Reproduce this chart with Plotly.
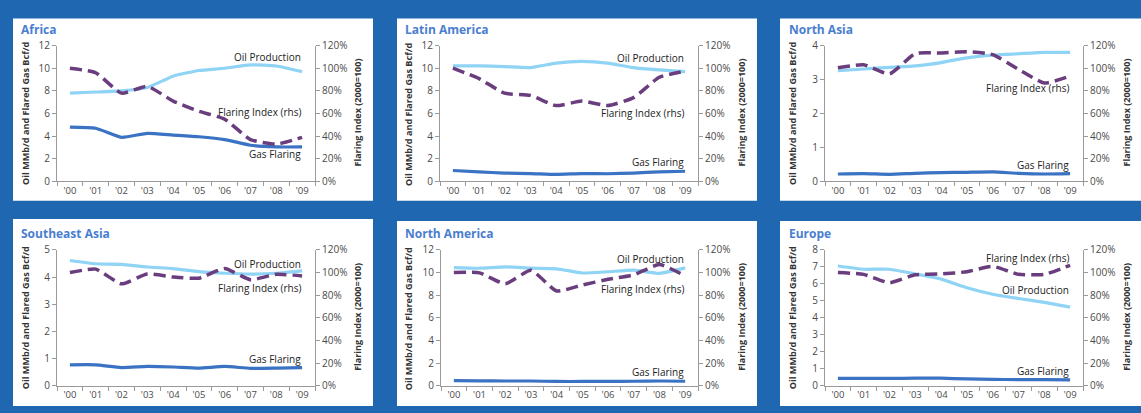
import plotly.graph_objects as go

years = ["'00", "'01", "'02", "'03", "'04", "'05", "'06", "'07", "'08", "'09"]

regions = ["Africa", "Latin America", "North Asia", "Southeast Asia", "North America", "Europe"]

oil_africa = [7.8, 7.9, 8.0, 8.3, 9.3, 9.8, 10.0, 10.3, 10.2, 9.7]
gas_africa = [4.8, 4.7, 3.9, 4.25, 4.1, 3.95, 3.7, 3.2, 3.05, 3.05]
idx_africa = [100, 96, 78, 84, 71, 62, 55, 37, 33, 39]

oil_latam = [10.2, 10.2, 10.15, 10.05, 10.45, 10.6, 10.45, 10.05, 9.85, 9.7]
gas_latam = [0.97, 0.85, 0.74, 0.7, 0.63, 0.7, 0.68, 0.74, 0.85, 0.9]
idx_latam = [100, 91, 78, 76, 67, 71, 67, 74, 92, 97.5]

oil_nasia = [3.26, 3.31, 3.36, 3.40, 3.50, 3.64, 3.72, 3.76, 3.80, 3.80]
gas_nasia = [0.22, 0.23, 0.21, 0.24, 0.26, 0.27, 0.28, 0.24, 0.22, 0.23]
idx_nasia = [100.4, 103, 95, 113, 113.5, 114.6, 112, 99, 87, 93]

oil_seasia = [4.61, 4.49, 4.47, 4.37, 4.31, 4.2, 4.14, 4.11, 4.14, 4.23]
gas_seasia = [0.77, 0.77, 0.67, 0.71, 0.69, 0.65, 0.71, 0.64, 0.65, 0.67]
idx_seasia = [100, 103, 90, 98.7, 96, 95, 103.5, 93.6, 98.4, 97]

oil_namer = [10.44, 10.38, 10.5, 10.38, 10.33, 9.96, 10.07, 10.21, 9.93, 10.41]
gas_namer = [0.45, 0.43, 0.42, 0.42, 0.38, 0.38, 0.38, 0.4, 0.42, 0.4]
idx_namer = [100, 99.7, 90, 102, 83.7, 89, 94, 98, 107, 97]

oil_europe = [7.05, 6.86, 6.86, 6.58, 6.28, 5.77, 5.39, 5.14, 4.91, 4.63]
gas_europe = [0.43, 0.44, 0.43, 0.45, 0.45, 0.40, 0.38, 0.36, 0.36, 0.35]
idx_europe = [100, 98.4, 91, 98, 98.7, 100.7, 105.5, 98.4, 98.4, 106.4]

oil_all = [oil_africa, oil_latam, oil_nasia, oil_seasia, oil_namer, oil_europe]
gas_all = [gas_africa, gas_latam, gas_nasia, gas_seasia, gas_namer, gas_europe]
idx_all = [idx_africa, idx_latam, idx_nasia, idx_seasia, idx_namer, idx_europe]

left_max = [12, 12, 4, 5, 12, 8]
left_dtick = [2, 2, 1, 1, 2, 1]

# label y positions (left-axis units) for: Oil Production, Flaring Index, Gas Flaring
label_y = [
    (10.98, 6.17, 2.4),
    (10.9, 6.03, 1.76),
    (4.04, 2.74, 0.47),
    (4.47, 3.59, 0.98),
    (11.2, 8.51, 1.22),
    (5.63, 7.5, 0.87),
]

W, H = 1141, 413
BLUE_BG = "#1f67b0"
TITLE_C = "#4a7ed0"
OIL_C = "#8fd3f5"
GAS_C = "#3a72c4"
IDX_C = "#6a3d7e"
AXIS_C = "#9a9a9a"
TXT_C = "#4a4a4a"
FONT = "Open Sans"


def px(x):
    return x / W


def py(y):
    return 1 - y / H


# panel geometry in pixels
panels = [
    dict(box=(13, 11, 373, 200), plot=(57, 39, 315, 180), lt=25, rt=358, title=(19, 22)),
    dict(box=(397, 11, 757, 200), plot=(440, 39, 698, 180), lt=408, rt=742, title=(403, 22)),
    dict(box=(780, 11, 1141, 200), plot=(825, 39, 1083, 180), lt=792, rt=1127, title=(787, 22)),
    dict(box=(13, 219, 373, 413), plot=(57, 251, 315, 392), lt=25, rt=358, title=(19, 234)),
    dict(box=(397, 221, 757, 413), plot=(441, 251, 698, 392), lt=408, rt=742, title=(403, 234)),
    dict(box=(780, 221, 1141, 413), plot=(825, 251, 1083, 392), lt=792, rt=1127, title=(787, 234)),
]

fig = go.Figure()
shapes = []
annotations = []
layout_axes = {}

for i, p in enumerate(panels):
    n = i + 1
    xa = "x" if n == 1 else f"x{n}"
    yl_n = 2 * i + 1
    yr_n = 2 * i + 2
    yl = "y" if yl_n == 1 else f"y{yl_n}"
    yr = f"y{yr_n}"

    bx0, by0, bx1, by1 = p["box"]
    shapes.append(dict(type="rect", xref="paper", yref="paper",
                       x0=px(bx0), x1=px(bx1), y0=py(by1), y1=py(by0),
                       fillcolor="white", line=dict(width=0), layer="below"))

    x0, y0, x1, y1 = p["plot"]
    xdom = [px(x0), px(x1)]
    ydom = [py(y1), py(y0)]

    layout_axes[f"xaxis{'' if n == 1 else n}"] = dict(
        domain=xdom, anchor=yl, type="category", range=[-0.5, 9.5],
        showline=True, linecolor=AXIS_C, linewidth=1,
        ticks="outside", tickson="boundaries", ticklen=4, tickcolor=AXIS_C,
        showgrid=False, zeroline=False,
        tickfont=dict(family=FONT, size=9.5, color=TXT_C), fixedrange=True,
    )
    layout_axes[f"yaxis{'' if yl_n == 1 else yl_n}"] = dict(
        domain=ydom, anchor=xa, range=[0, left_max[i]], dtick=left_dtick[i],
        showline=True, linecolor=AXIS_C, linewidth=1,
        ticks="outside", ticklen=4, tickcolor=AXIS_C,
        showgrid=False, zeroline=False,
        tickfont=dict(family=FONT, size=10, color=TXT_C), fixedrange=True,
    )
    layout_axes[f"yaxis{yr_n}"] = dict(
        anchor=xa, overlaying=yl, side="right", range=[0, 120], dtick=20,
        ticksuffix="%",
        showline=True, linecolor=AXIS_C, linewidth=1,
        ticks="outside", ticklen=4, tickcolor=AXIS_C,
        showgrid=False, zeroline=False,
        tickfont=dict(family=FONT, size=10, color=TXT_C), fixedrange=True,
    )

    fig.add_trace(go.Scatter(x=years, y=oil_all[i], xaxis=xa, yaxis=yl, mode="lines",
                             line=dict(color=OIL_C, width=3.2, shape="spline", smoothing=0.5),
                             showlegend=False, hoverinfo="skip"))
    fig.add_trace(go.Scatter(x=years, y=gas_all[i], xaxis=xa, yaxis=yl, mode="lines",
                             line=dict(color=GAS_C, width=3.2, shape="spline", smoothing=0.5),
                             showlegend=False, hoverinfo="skip"))
    fig.add_trace(go.Scatter(x=years, y=idx_all[i], xaxis=xa, yaxis=yr, mode="lines",
                             line=dict(color=IDX_C, width=3.5, dash="12px,6px",
                                       shape="spline", smoothing=0.5),
                             showlegend=False, hoverinfo="skip"))

    # Panel title
    tx, ty = p["title"]
    annotations.append(dict(text=f"<b>{regions[i]}</b>", xref="paper", yref="paper",
                            x=px(tx), y=py(ty), xanchor="left", yanchor="middle",
                            showarrow=False,
                            font=dict(family=FONT, size=12, color=TITLE_C)))
    # Axis titles
    annotations.append(dict(text="<b>Oil MMb/d and Flared Gas Bcf/d</b>", xref="paper", yref="paper",
                            x=px(p["lt"]), y=py((y0 + y1) / 2 + 0.5), xanchor="center", yanchor="middle",
                            textangle=-90, showarrow=False,
                            font=dict(family=FONT, size=9.1, color="#333333")))
    annotations.append(dict(text="<b>Flaring Index (2000=100)</b>", xref="paper", yref="paper",
                            x=px(p["rt"]), y=py((y0 + y1) / 2 - 1), xanchor="center", yanchor="middle",
                            textangle=-90, showarrow=False,
                            font=dict(family=FONT, size=9.0, color="#333333")))
    # Series labels
    ly = label_y[i]
    for txt, yv in zip(["Oil Production", "Flaring Index (rhs)", "Gas Flaring"], ly):
        annotations.append(dict(text=txt, xref=xa, yref=yl, x=9, y=yv,
                                xanchor="right", yanchor="middle", xshift=1,
                                showarrow=False,
                                font=dict(family=FONT, size=10, color="#222222")))

fig.update_layout(
    width=W, height=H, autosize=False,
    margin=dict(l=0, r=0, t=0, b=0),
    paper_bgcolor=BLUE_BG, plot_bgcolor="rgba(0,0,0,0)",
    shapes=shapes, annotations=annotations,
    font=dict(family=FONT),
    **layout_axes,
)

fig.write_html("out.html", config={"displayModeBar": False})
